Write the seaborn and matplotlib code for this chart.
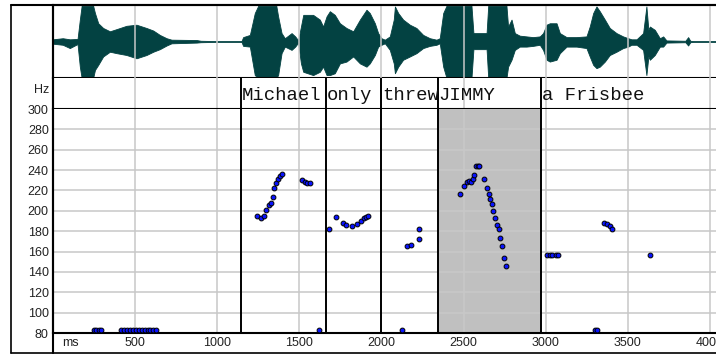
import numpy as np
import pandas as pd
import matplotlib
matplotlib.use('Agg')
import matplotlib.pyplot as plt
import seaborn as sns

# 一、数据
# 波形包络: 时间(ms), 上沿, 下沿 (归一化振幅)
wave_t = [0, 60, 103, 150, 164, 175, 245, 256, 276, 306, 347, 388, 448, 509, 570, 611, 651, 692, 722,
          875, 900, 1000, 1148, 1158, 1199, 1229, 1250, 1360, 1371, 1392, 1412, 1453, 1475, 1493, 1510,
          1524, 1584, 1625, 1645, 1666, 1686, 1716, 1747, 1787, 1828, 1869, 1909, 1929, 1960, 1980, 2000,
          2021, 2051, 2075, 2082, 2102, 2132, 2173, 2213, 2254, 2295, 2335, 2355, 2376, 2396, 2548, 2560,
          2640, 2650, 2761, 2771, 2792, 2812, 2842, 2883, 2923, 2964, 2984, 3005, 3025, 3066, 3086, 3127,
          3187, 3248, 3268, 3289, 3309, 3329, 3360, 3390, 3431, 3471, 3502, 3522, 3553, 3593, 3613, 3625,
          3634, 3664, 3695, 3715, 3735, 3850, 3867, 3880, 3897, 4061]
wave_up = [0.06, 0.09, 0.06, 0.07, 0.60, 0.98, 0.98, 0.78, 0.50, 0.37, 0.28, 0.34, 0.43, 0.46, 0.37, 0.30, 0.18, 0.09, 0.05,
           0.04, 0.02, 0.01, 0.01, 0.12, 0.18, 0.78, 0.98, 0.98, 0.69, 0.23, 0.09, 0.23, 0.14, 0.03, 0.41,
           0.73, 0.73, 0.60, 0.41, 0.69, 0.83, 0.73, 0.50, 0.37, 0.28, 0.60, 0.87, 0.78, 0.50, 0.23, 0.09,
           0.05, 0.14, 0.60, 0.96, 0.78, 0.60, 0.46, 0.37, 0.18, 0.09, 0.05, 0.09, 0.78, 0.98, 0.98, 0.23,
           0.23, 0.98, 0.98, 0.41, 0.60, 0.23, 0.16, 0.14, 0.12, 0.14, 0.23, 0.46, 0.50, 0.50, 0.23, 0.12,
           0.12, 0.14, 0.41, 0.78, 0.96, 0.83, 0.60, 0.37, 0.23, 0.14, 0.09, 0.06, 0.06, 0.23, 0.96, 0.32,
           0.41, 0.32, 0.09, 0.14, 0.03, 0.02, 0.12, 0.02, 0.01, 0.01]
wave_lo = [-0.06, -0.09, -0.18, -0.07, -0.69, -1.0, -1.0, -0.78, -0.64, -0.41, -0.28, -0.32, -0.37, -0.46, -0.37, -0.28, -0.21, -0.11, -0.05,
           -0.03, -0.02, -0.01, -0.01, -0.12, -0.14, -0.92, -1.0, -1.0, -0.92, -0.32, -0.14, -0.23, -0.14, -0.03, -0.60,
           -0.83, -0.92, -0.83, -0.69, -0.92, -0.92, -0.87, -0.60, -0.55, -0.41, -0.60, -0.69, -0.60, -0.37, -0.14, -0.09,
           -0.05, -0.23, -0.60, -0.87, -0.69, -0.50, -0.41, -0.32, -0.18, -0.12, -0.09, -0.05, -0.69, -1.0, -1.0, -0.21,
           -0.21, -1.0, -1.0, -0.69, -0.50, -0.23, -0.14, -0.14, -0.12, -0.09, -0.23, -0.50, -0.55, -0.50, -0.32, -0.14,
           -0.14, -0.18, -0.41, -0.64, -0.73, -0.69, -0.55, -0.37, -0.28, -0.18, -0.14, -0.09, -0.09, -0.23, -0.92, -0.41,
           -0.50, -0.37, -0.14, -0.14, -0.03, -0.02, -0.11, -0.02, -0.01, -0.01]

# 词标注
word_names = ['Michael', 'only', 'threw', 'JIMMY', 'a Frisbee']
word_start = [1144, 1662, 1998, 2343, 2970]
focus_word = 'JIMMY'

# 基频点 (ms, Hz)
pitch_ms = [250, 265, 280, 292,
            415, 432, 450, 468, 486, 504, 522, 540, 558, 576, 594, 612, 630,
            1245, 1264, 1284, 1300, 1315, 1327, 1337, 1345, 1357, 1369, 1382, 1392,
            1517, 1534, 1548, 1564, 1621,
            1678, 1722, 1763, 1783, 1820, 1852, 1873, 1893, 1905, 1917,
            2124, 2153, 2177, 2228, 2228,
            2477, 2501, 2518, 2534, 2548, 2558, 2562, 2575, 2585, 2595, 2623, 2643, 2654, 2660,
            2670, 2680, 2690, 2704, 2715, 2721, 2733, 2745, 2757,
            3010, 3025, 3040, 3060, 3075, 3300, 3315, 3354, 3374, 3390, 3404, 3634]
pitch_hz = [83, 83, 83, 83,
            83, 83, 83, 83, 83, 83, 83, 83, 83, 83, 83, 83, 83,
            195, 193, 195, 201, 206, 208, 214, 222, 227, 231, 234, 236,
            230, 228, 227, 227, 83,
            182, 194, 188, 186, 185, 187, 190, 193, 194, 195,
            83, 165, 166, 172, 182,
            217, 224, 228, 229, 228, 231, 235, 244, 244, 244, 231, 222, 217, 212,
            207, 200, 193, 186, 182, 173, 165, 154, 146,
            157, 157, 157, 157, 157, 83, 83, 188, 187, 185, 182, 157]

x_ticks = [500, 1000, 1500, 2000, 2500, 3000, 3500, 4000]
y_ticks = [80, 100, 120, 140, 160, 180, 200, 220, 240, 260, 280, 300]

# 二、画图
sns.set_style('white')
plt.rcParams['font.family'] = ['Liberation Sans', 'DejaVu Sans']

W, H = 716, 356
X0, X1, XMAX = 52.9, 720, 4061
fig = plt.figure(figsize=(W / 100, H / 100), dpi=100)

def add_ax(top, bottom):
    ax = fig.add_axes([X0 / W, 1 - bottom / H, (X1 - X0) / W, (bottom - top) / H])
    ax.set_xlim(0, XMAX)
    for s in ax.spines.values():
        s.set_color('black')
        s.set_linewidth(1.5)
    ax.set_xticks([])
    ax.set_yticks([])
    return ax

grid_c = '#c8c8c8'

# 2.1 波形
ax_w = add_ax(5, 78)
ax_w.set_ylim(-1.0, 1.0)
ax_w.fill_between(wave_t, wave_lo, wave_up, color='#034242', lw=0.6, edgecolor='#034242', zorder=2)
for t in x_ticks:
    ax_w.axvline(t, color=grid_c, lw=1.1, zorder=3)

# 2.2 词标注
ax_l = add_ax(78, 109)
ax_l.set_ylim(0, 1)
ax_l.spines['top'].set_visible(False)
for t in x_ticks:
    ax_l.axvline(t, color=grid_c, lw=1.1, zorder=1)
for name, t in zip(word_names, word_start):
    ax_l.axvline(t, color='black', lw=1.4, zorder=2)
    ax_l.text(t + 6, 0.29, name, family='Liberation Mono', fontsize=13.6,
              va='baseline', ha='left', color='#111111', zorder=3)

# 2.3 基频
ax_p = add_ax(109, 333)
ax_p.spines['top'].set_visible(False)
ax_p.set_ylim(80, 300)
i = word_names.index(focus_word)
ax_p.axvspan(word_start[i], word_start[i + 1], color='#c0c0c0', zorder=0, lw=0)
for t in x_ticks:
    ax_p.axvline(t, color=grid_c, lw=1.1, zorder=1)
for h in y_ticks[1:-1]:
    ax_p.axhline(h, color=grid_c, lw=1.1, zorder=1)
for t in word_start:
    ax_p.axvline(t, color='black', lw=1.4, zorder=2)

pitch = pd.DataFrame({'ms': pitch_ms, 'hz': pitch_hz})
sns.scatterplot(data=pitch, x='ms', y='hz', ax=ax_p, s=12, color='#0a14ff',
                edgecolor='black', linewidth=0.7, zorder=4, legend=False)
ax_p.set_xlim(0, XMAX)
ax_p.set_xlabel('')
ax_p.set_ylabel('')
ax_p.set_xticks(x_ticks)
ax_p.set_xticklabels([str(t) for t in x_ticks])
ax_p.set_yticks(y_ticks)
ax_p.set_yticklabels([str(h) for h in y_ticks])
ax_p.tick_params(axis='both', length=0, labelsize=9, colors='#222222')
ax_p.tick_params(axis='x', pad=3)
ax_p.tick_params(axis='y', pad=3)

fig.text(62 / W, 1 - 343 / H, 'ms', fontsize=9, color='#222222', ha='left', va='center')
fig.text(49 / W, 1 - 90 / H, 'Hz', fontsize=9, color='#222222', ha='right', va='center')

# 外框
fig.add_artist(plt.Line2D([10.5 / W, 10.5 / W], [1 - 353 / H, 1 - 5 / H], color='black', lw=1.2))
fig.add_artist(plt.Line2D([10.5 / W, 1.0], [1 - 5 / H, 1 - 5 / H], color='black', lw=1.5))
fig.add_artist(plt.Line2D([10.5 / W, 1.0], [1 - 353 / H, 1 - 353 / H], color='black', lw=1.2))
fig.add_artist(plt.Line2D([X0 / W, X0 / W], [1 - 353 / H, 1 - 5 / H], color='black', lw=1.5))

fig.savefig('out.png', dpi=100)
